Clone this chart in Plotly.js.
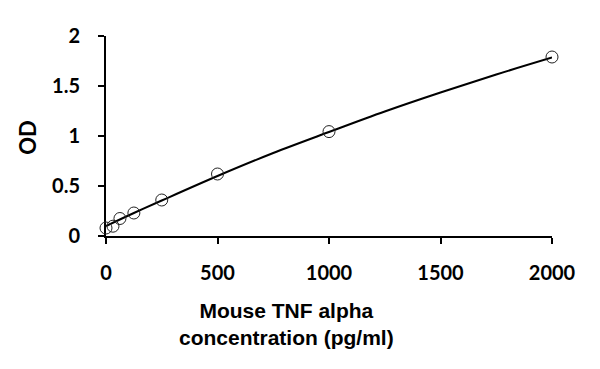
<!DOCTYPE html>
<html>
<head>
<meta charset="utf-8">
<script src="https://cdn.plot.ly/plotly-3.0.1.min.js"></script>
<style>html,body{margin:0;padding:0;background:#fff;}#chart{width:600px;height:369px;}</style>
</head>
<body>
<div id="chart"></div>
<script>
// Standard points (concentration pg/ml, OD)
var concentration = [0, 31.25, 62.5, 125, 250, 500, 1000, 2000];
var od = [0.08, 0.098, 0.175, 0.23, 0.36, 0.62, 1.044, 1.79];

// Fitted curve
var fitX = [0, 125, 250, 500, 750, 1000, 1250, 1500, 1750, 2000];
var fitY = [0.10, 0.23, 0.355, 0.60, 0.83, 1.04, 1.245, 1.435, 1.615, 1.785];

var xTicks = [0, 500, 1000, 1500, 2000];
var yTicks = [0, 0.5, 1, 1.5, 2];
var yTickText = ['0', '0.5', '1', '1.5', '2'];

var xTitle = 'Mouse TNF alpha<br>concentration (pg/ml)';
var yTitle = 'OD';

var tickFont = {family: 'Lato, sans-serif', size: 20, color: '#000', weight: 'bold'};

var traces = [
  {x: fitX, y: fitY, type: 'scatter', mode: 'lines', cliponaxis: false, line: {color: '#000', width: 2, shape: 'spline', smoothing: 1}, hoverinfo: 'skip'},
  {x: concentration, y: od, type: 'scatter', mode: 'markers', cliponaxis: false, marker: {symbol: 'circle-open', size: 12, color: '#222', line: {width: 1, color: '#222'}}}
];

var layout = {
  width: 600, height: 369,
  margin: {l: 106, r: 48, t: 36, b: 132.5},
  paper_bgcolor: '#fff', plot_bgcolor: '#fff',
  showlegend: false,
  xaxis: {
    range: [0, 2000], tickvals: xTicks, ticktext: xTicks.map(String),
    showgrid: false, zeroline: false, showline: true, linecolor: '#000', linewidth: 2,
    ticks: 'outside', ticklen: 6, tickwidth: 2, tickcolor: '#000',
    tickfont: tickFont, ticklabelstandoff: 12, layer: 'below traces'
  },
  yaxis: {
    range: [0, 2], tickvals: yTicks, ticktext: yTickText,
    showgrid: false, zeroline: false, showline: true, linecolor: '#000', linewidth: 2,
    ticks: 'outside', ticklen: 6, tickwidth: 2, tickcolor: '#000',
    tickfont: tickFont, ticklabelstandoff: 14, layer: 'below traces'
  },
  annotations: [
    {text: xTitle, xref: 'paper', yref: 'paper', x: 0.4058, y: -0.441, xanchor: 'center', yanchor: 'middle', showarrow: false,
     font: {family: 'Liberation Sans, Arial, sans-serif', size: 21, color: '#000', weight: 'bold'}},
    {text: yTitle, xref: 'paper', yref: 'paper', x: -0.1749, y: 0.496, xanchor: 'center', yanchor: 'middle', showarrow: false, textangle: -90,
     font: {family: 'Lato, sans-serif', size: 22, color: '#000', weight: 'bold'}}
  ]
};

Plotly.newPlot('chart', traces, layout, {displayModeBar: false, staticPlot: true});
</script>
</body>
</html>
